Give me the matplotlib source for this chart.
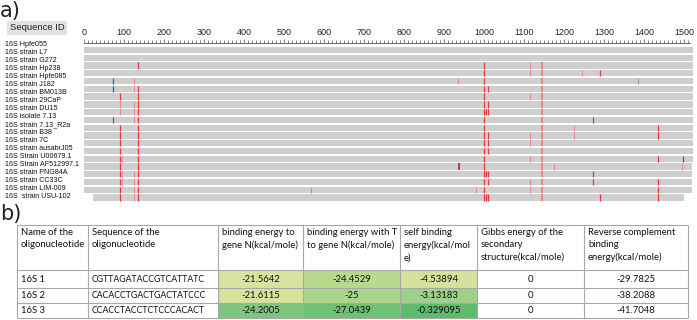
import matplotlib
matplotlib.use("Agg")
import matplotlib.pyplot as plt
from matplotlib.patches import Rectangle
import numpy as np

W, H = 697, 320

# ---- a) alignment overview ----
seq_ids = ["16S Hpfe055", "16S strain L7", "16S strain G272", "16S strain Hp238",
           "16S strain Hpfe085", "16S strain J182", "16S strain BM013B", "16S strain 29CaP",
           "16S strain DU15", "16S isolate 7.13", "16S strain 7.13_R2a", "16S strain B38",
           "16S strain 7C", "16S strain ausabrJ05", "16S Strain U00679.1", "16S Strain AF512997.1",
           "16S strain PNG84A", "16S strain CC33C", "16S strain LIM-009", "16S  strain USU-102"]
bar_start = [0] * 19 + [22]
bar_end = [1522] * 15 + [1519, 1521, 1521, 1521, 1500]

# mismatches (row, position)
red_marks = [(2, 136)] + [(r, 136) for r in range(5, 20)] \
    + [(r, 89) for r in [6, 10, 11, 12, 13, 14, 15, 16, 17, 18, 19]] \
    + [(r, 1001) for r in range(2, 20)] \
    + [(r, 1011) for r in [5, 7, 8, 11, 12, 13, 16, 17, 19]] \
    + [(8, 1004), (16, 1004), (19, 1004)] \
    + [(r, 1436) for r in [10, 11, 14, 17, 18, 19]] \
    + [(9, 1273), (16, 1273), (17, 1273), (19, 1290), (3, 1290)]
light_marks = [(r, 126) for r in [4, 5, 7, 8, 9, 16, 17, 18, 19]] \
    + [(7, 89), (8, 89)] + [(r, 95) for r in [14, 16, 17]] \
    + [(r, 1116) for r in [2, 3, 6, 11, 12, 14, 17, 18]] \
    + [(3, 1244), (4, 936), (10, 1226), (11, 1226), (15, 1175), (18, 980), (15, 1494)]
wide_marks = [(r, 1144) for r in range(2, 20)]
dark_marks = [(15, 938)]
blue_marks = [(4, 72), (5, 72), (9, 72), (14, 1498)]
gray_marks = [(18, 568), (4, 1385)]

ruler_major = list(range(0, 1501, 100))

# ---- b) oligonucleotide table ----
col_headers = ["Name of the\noligonucleotide", "Sequence of the\noligonucleotide",
               "binding energy to\ngene N(kcal/mole)", "binding energy with T\nto gene N(kcal/mole)",
               "self binding\nenergy(kcal/mol\ne)", "Gibbs energy of the\nsecondary\nstructure(kcal/mole)",
               "Reverse complement\nbinding\nenergy(kcal/mole)"]
oligo_names = ["16S 1", "16S 2", "16S 3"]
oligo_seqs = ["CGTTAGATACCGTCATTATC", "CACACCTGACTGACTATCCC", "CCACCTACCTCTCCCACACT"]
bind_gene_n = [-21.5642, -21.6115, -24.2005]
bind_with_t = [-24.4529, -25, -27.0439]
self_bind = [-4.53894, -3.13183, -0.329095]
gibbs = [0, 0, 0]
rev_comp = [-29.7825, -38.2088, -41.7048]

cell_colors = {2: ["#d9e39d", "#d7e29b", "#7ec580"],
               3: ["#b8da8c", "#aad58a", "#70c075"],
               4: ["#d6e19b", "#9dd088", "#5eba6c"]}


def fbox(x0, y0, x1, y1):
    return [x0 / W, 1 - y1 / H, (x1 - x0) / W, (y1 - y0) / H]


fig = plt.figure(figsize=(W / 100, H / 100), dpi=100)
fig.patch.set_facecolor("white")

fig.text(0 / W, 1 - 11 / H, "a)", fontsize=15, va="center", ha="left", family="DejaVu Sans",
         color="#222222")
fig.text(0 / W, 1 - 214 / H, "b)", fontsize=15, va="center", ha="left", family="DejaVu Sans",
         color="#222222")
fig.text(37 / W, 1 - 28 / H, "Sequence ID", fontsize=6.8, ha="center", va="center",
         family="Liberation Sans", color="#222222",
         bbox=dict(facecolor="#e2e2e2", edgecolor="none", pad=1.8))

row_px0, row_pitch = 50, 7.77
ax = fig.add_axes(fbox(84, 43, 697, 205))
ax.set_xlim(0, (697 - 84) / 0.4)
ax.set_ylim((205 - row_px0) / row_pitch, (43 - row_px0) / row_pitch)

rows = np.arange(len(seq_ids))
ax.barh(rows, np.array(bar_end) - np.array(bar_start), left=bar_start,
        height=0.81, color="#cfcfcf", linewidth=0)

half = 0.405
for marks, color, lw in [(light_marks, "#f08a8a", 0.8), (wide_marks, "#ee7a7a", 1.3),
                         (red_marks, "#e8323c", 0.9), (dark_marks, "#b01818", 1.1),
                         (blue_marks, "#4848e8", 0.9), (gray_marks, "#a2a2a2", 0.9)]:
    r = np.array([m[0] for m in marks])
    p = np.array([m[1] for m in marks])
    ax.vlines(p, r - half, r + half, colors=color, linewidth=lw)

for s in ["left", "right", "bottom"]:
    ax.spines[s].set_visible(False)
ax.spines["top"].set_bounds(0, 1515)
ax.spines["top"].set_color("#555555")
ax.spines["top"].set_linewidth(0.6)
ax.set_yticks([])
ax.set_xticks(ruler_major)
ax.set_xticks(np.arange(0, 1511, 10), minor=True)
ax.tick_params(axis="x", which="both", top=True, bottom=False, labeltop=True,
               labelbottom=False, direction="out", color="#555555", width=0.5)
ax.tick_params(axis="x", which="major", length=2.8, labelsize=6.5, pad=1.5, labelcolor="#222222")
ax.tick_params(axis="x", which="minor", length=2.0)
for lab in ax.get_xticklabels():
    lab.set_family("Liberation Sans")

for i, name in enumerate(seq_ids):
    fig.text(5 / W, 1 - (44 + 8.05 * i) / H, name, fontsize=5.1, va="center", ha="left",
             family="Liberation Sans", color="#111111")

# table
tax = fig.add_axes(fbox(0, 205, 697, 320))
tax.set_xlim(0, W)
tax.set_ylim(320, 205)
tax.axis("off")

col_edges = [17, 88, 218, 303, 400, 477, 584, 688]
row_edges = [225, 270, 288, 303, 318]

for j, colors in cell_colors.items():
    for i, c in enumerate(colors):
        tax.add_patch(Rectangle((col_edges[j], row_edges[i + 1]),
                                col_edges[j + 1] - col_edges[j],
                                row_edges[i + 2] - row_edges[i + 1],
                                facecolor=c, edgecolor="none"))

tax.hlines(row_edges, col_edges[0], col_edges[-1], colors="#a8a8a8", linewidth=0.8)
tax.vlines(col_edges, row_edges[0], row_edges[-1], colors="#a8a8a8", linewidth=0.8)

tfont = dict(family="Lato", fontsize=6.8, color="#111111")
for j, head in enumerate(col_headers):
    tax.text(col_edges[j] + 4, row_edges[0] + 3, head, ha="left", va="top",
             linespacing=1.45, **tfont)

value_cols = [bind_gene_n, bind_with_t, self_bind, gibbs, rev_comp]
for i in range(len(oligo_names)):
    yc = (row_edges[i + 1] + row_edges[i + 2]) / 2
    tax.text(col_edges[0] + 4, yc, oligo_names[i], ha="left", va="center", **tfont)
    tax.text(col_edges[1] + 4, yc, oligo_seqs[i], ha="left", va="center",
             family="Lato", fontsize=6.3, color="#111111")
    for k, vals in enumerate(value_cols):
        j = k + 2
        xc = (col_edges[j] + col_edges[j + 1]) / 2
        tax.text(xc, yc, "{:g}".format(vals[i]), ha="center", va="center", **tfont)

fig.savefig("out.png", dpi=100, facecolor="white")
